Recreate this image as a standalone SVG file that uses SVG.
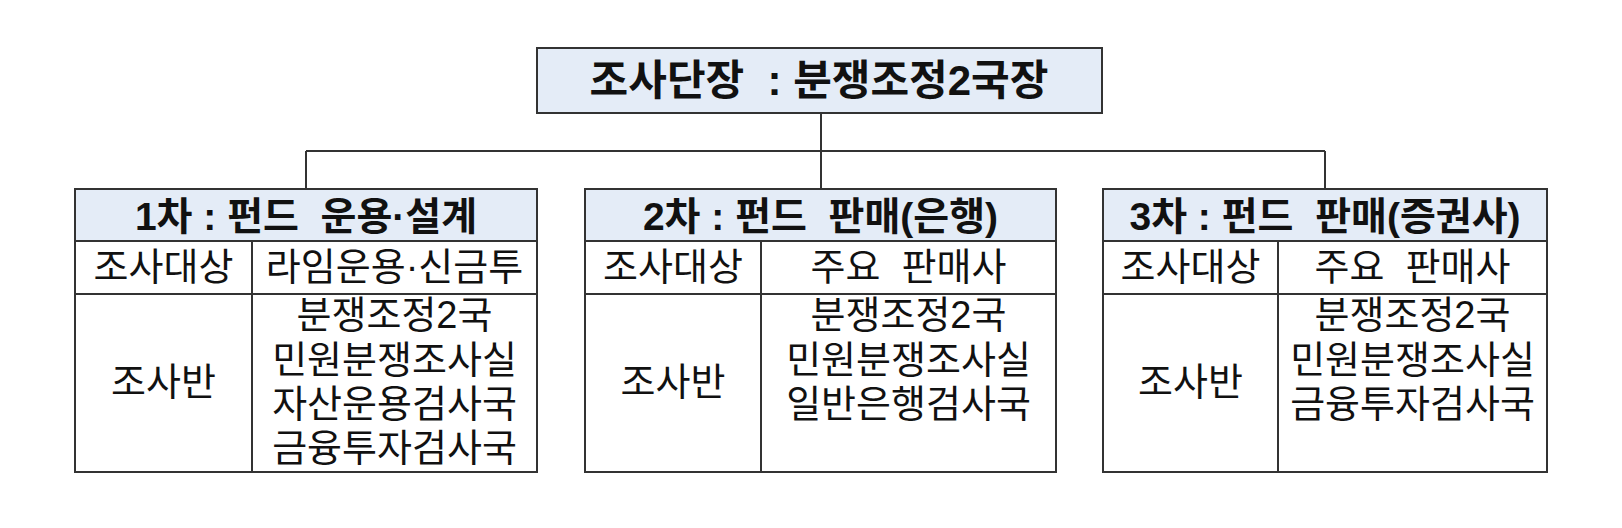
<svg xmlns="http://www.w3.org/2000/svg" width="1622" height="528" viewBox="0 0 1622 528">
<style>
.box{fill:#ffffff;stroke:#333333;stroke-width:2}
.hd{fill:#e4ecf7;stroke:#333333;stroke-width:2}
.ln{stroke:#333333;stroke-width:2;fill:none}
.t{font-family:"Liberation Sans","Noto Sans CJK KR",sans-serif;font-size:38px;fill:#111111;text-anchor:middle}
.b{font-weight:bold;font-size:39px}
.top{font-size:42px}
</style>
<rect width="1622" height="528" fill="#ffffff"/>
<g id="connectors">
<path class="ln" d="M821 113V189M306 151H1325M306 151V189M1325 151V189"/>
</g>
<g id="root">
<rect class="hd" x="537" y="48" width="565" height="65"/>
<text class="t b top" x="819" y="95" xml:space="preserve">조사단장  : 분쟁조정2국장</text>
</g>
<g id="node1">
<rect class="hd" x="75" y="189" width="462" height="52"/>
<rect class="box" x="75" y="241" width="462" height="231"/>
<path class="ln" d="M75 294H537M252 241V472"/>
<text class="t b" x="306" y="230" xml:space="preserve">1차 : 펀드  운용·설계</text>
<text class="t" x="163.5" y="280">조사대상</text>
<text class="t" x="394.5" y="280">라임운용·신금투</text>
<text class="t" x="163.5" y="395">조사반</text>
<text class="t" x="394.5" y="328">분쟁조정2국</text>
<text class="t" x="394.5" y="373">민원분쟁조사실</text>
<text class="t" x="394.5" y="417">자산운용검사국</text>
<text class="t" x="394.5" y="461">금융투자검사국</text>
</g>
<g id="node2">
<rect class="hd" x="585" y="189" width="471" height="52"/>
<rect class="box" x="585" y="241" width="471" height="231"/>
<path class="ln" d="M585 294H1056M761 241V472"/>
<text class="t b" x="820.5" y="230" xml:space="preserve">2차 : 펀드  판매(은행)</text>
<text class="t" x="673" y="280">조사대상</text>
<text class="t" x="908.5" y="280" xml:space="preserve">주요  판매사</text>
<text class="t" x="673" y="395">조사반</text>
<text class="t" x="908.5" y="328">분쟁조정2국</text>
<text class="t" x="908.5" y="373">민원분쟁조사실</text>
<text class="t" x="908.5" y="417">일반은행검사국</text>
</g>
<g id="node3">
<rect class="hd" x="1103" y="189" width="444" height="52"/>
<rect class="box" x="1103" y="241" width="444" height="231"/>
<path class="ln" d="M1103 294H1547M1278 241V472"/>
<text class="t b" x="1325" y="230" xml:space="preserve">3차 : 펀드  판매(증권사)</text>
<text class="t" x="1190.5" y="280">조사대상</text>
<text class="t" x="1412.5" y="280" xml:space="preserve">주요  판매사</text>
<text class="t" x="1190.5" y="395">조사반</text>
<text class="t" x="1412.5" y="328">분쟁조정2국</text>
<text class="t" x="1412.5" y="373">민원분쟁조사실</text>
<text class="t" x="1412.5" y="417">금융투자검사국</text>
</g>
</svg>
